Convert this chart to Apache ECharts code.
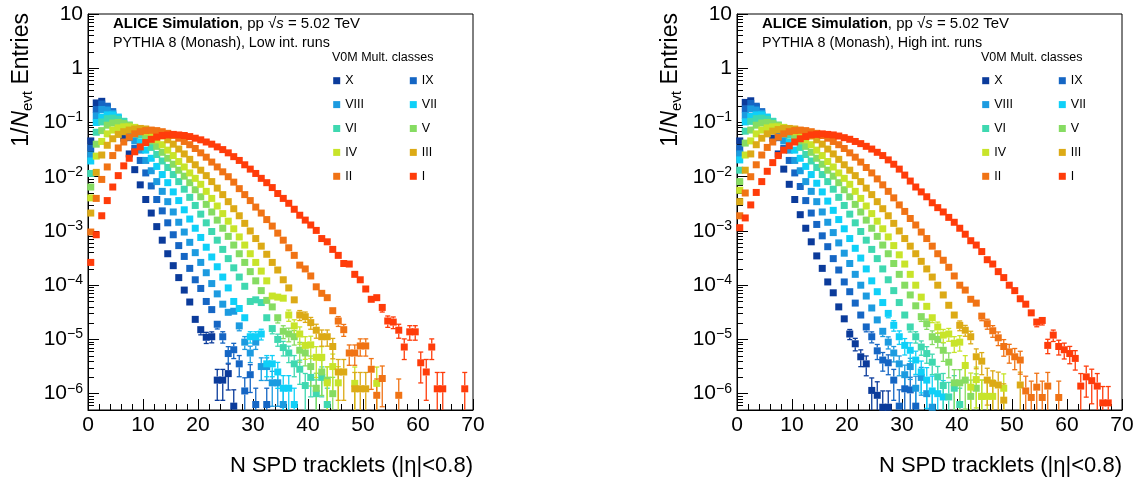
<!DOCTYPE html>
<html><head><meta charset="utf-8">
<script src="https://cdn.jsdelivr.net/npm/echarts@6/dist/echarts.min.js"></script>
<style>html,body{margin:0;padding:0;background:#fff}#c{width:1134px;height:479px}</style>
</head><body><div id="c"></div>
<script>
// ---- DATA (values given as log10 of 1/N_evt Entries, one per tracklet bin starting at bin 0) ----
const classNames = ['X','IX','VIII','VII','VI','V','IV','III','II','I'];
const classColors = ['#0b3b9b','#1566c4','#1c9be0','#0fd0f8','#3fd8b0','#86dc62','#c8e42a','#dcaa16','#f07315','#ff3c0a'];
const xTickValues = [0,10,20,30,40,50,60,70];
const yTickExponents = [1,0,-1,-2,-3,-4,-5,-6];

// Low int. runs (left panel)
const lowX    = [-1.34,-0.64,-0.61,-0.72,-0.87,-1.06,-1.29,-1.58,-1.87,-2.15,-2.42,-2.67,-2.92,-3.17,-3.42,-3.64,-3.86,-4.09,-4.31,-4.63,-4.82,-4.96,-4.95,-5.75,-5.75,-5.63,-6.23];
const lowIX   = [-1.47,-0.76,-0.66,-0.70,-0.80,-0.93,-1.09,-1.28,-1.48,-1.70,-1.93,-2.17,-2.42,-2.63,-2.85,-3.07,-3.27,-3.47,-3.69,-3.90,-4.06,-4.30,-4.45,-4.72,-4.95,-5.26,-5.19,-5.45,-5.95,-5.65,-6.2,null,-6.2];
const lowVIII = [-1.60,-0.88,-0.76,-0.77,-0.83,-0.92,-1.04,-1.18,-1.34,-1.51,-1.70,-1.89,-2.09,-2.27,-2.46,-2.65,-2.84,-3.02,-3.21,-3.40,-3.58,-3.77,-3.97,-4.16,-4.35,-4.50,-4.48,-4.75,-5.05,-5.25,-5.05,-5.5,-5.5,-5.8,-5.8,-6.2];
const lowVII  = [-1.71,-1.00,-0.90,-0.86,-0.86,-0.90,-0.98,-1.09,-1.22,-1.36,-1.51,-1.66,-1.81,-1.96,-2.11,-2.28,-2.44,-2.61,-2.78,-2.95,-3.12,-3.30,-3.48,-3.66,-3.85,-4.05,-4.30,-4.43,-4.60,-4.95,-4.95,-4.90,-5.45,-5.45,-5.6,-5.9,-5.9,-6.2];
const lowVI   = [-1.94,-1.18,-0.99,-0.93,-0.92,-0.94,-0.98,-1.05,-1.13,-1.23,-1.34,-1.46,-1.59,-1.71,-1.83,-1.96,-2.09,-2.23,-2.38,-2.53,-2.69,-2.85,-3.01,-3.17,-3.34,-3.51,-3.68,-3.85,-4.02,-4.30,-4.27,-4.32,-4.60,-4.80,-5.00,-5.15,-5.25,-5.45,-5.55,-5.85,-5.70,-6.0,-5.7,-6.2];
const lowV    = [-2.19,-1.40,-1.15,-1.05,-1.01,-1.00,-1.02,-1.05,-1.10,-1.17,-1.25,-1.34,-1.44,-1.55,-1.66,-1.77,-1.88,-1.99,-2.11,-2.24,-2.37,-2.51,-2.65,-2.80,-2.95,-3.10,-3.26,-3.42,-3.58,-3.75,-3.92,-4.10,-4.28,-4.40,-4.60,-4.85,-4.90,-4.95,-5.20,-5.25,-5.50,-5.90,-5.60,-5.75,-6.0];
const lowIV   = [-2.39,-1.62,-1.35,-1.21,-1.14,-1.10,-1.08,-1.08,-1.09,-1.12,-1.17,-1.24,-1.32,-1.41,-1.51,-1.61,-1.72,-1.82,-1.93,-2.03,-2.14,-2.27,-2.40,-2.54,-2.68,-2.82,-2.96,-3.11,-3.26,-3.42,-3.58,-3.74,-3.92,-4.20,-4.22,-4.24,-4.55,-4.75,-4.90,-5.11,-5.10,-5.33,-5.33,-5.80,-5.50,-5.80,null,null,-5.81,null,null,null,-5.81];
const lowIII  = [-2.67,-1.92,-1.60,-1.42,-1.30,-1.22,-1.17,-1.14,-1.12,-1.11,-1.12,-1.15,-1.19,-1.25,-1.32,-1.40,-1.49,-1.58,-1.68,-1.78,-1.88,-1.98,-2.09,-2.21,-2.33,-2.46,-2.59,-2.72,-2.86,-3.00,-3.14,-3.28,-3.43,-3.58,-3.72,-3.90,-4.05,-4.27,-4.55,-4.58,-4.69,-4.83,-4.95,-4.95,-5.13,-5.60,-5.60,null,-5.91,-5.91,-5.91];
const lowII   = [-3.02,-2.40,-2.05,-1.82,-1.61,-1.47,-1.36,-1.27,-1.21,-1.17,-1.15,-1.14,-1.15,-1.17,-1.20,-1.24,-1.29,-1.35,-1.41,-1.48,-1.56,-1.64,-1.73,-1.82,-1.91,-2.00,-2.10,-2.22,-2.33,-2.44,-2.56,-2.67,-2.79,-2.91,-3.04,-3.17,-3.31,-3.45,-3.63,-3.70,-3.83,-4.03,-4.15,-4.23,-4.47,-4.66,-4.82,-5.25,-5.25,-5.12,-5.12,-5.55,-6.03,-5.72,null,null,-6.03];
const lowI    = [-3.58,-3.07,-2.72,-2.44,-2.19,-1.98,-1.80,-1.66,-1.54,-1.45,-1.37,-1.31,-1.27,-1.24,-1.23,-1.22,-1.23,-1.24,-1.26,-1.29,-1.32,-1.36,-1.40,-1.45,-1.50,-1.56,-1.63,-1.70,-1.78,-1.86,-1.94,-2.03,-2.11,-2.20,-2.31,-2.40,-2.49,-2.60,-2.71,-2.80,-2.89,-2.99,-3.14,-3.20,-3.34,-3.45,-3.60,-3.61,-3.80,-3.90,-4.07,-4.26,-4.23,-4.41,-4.66,-4.68,-4.83,-5.14,-4.86,-4.86,-5.43,-5.60,-5.14,-5.91,-5.91,null,null,null,-5.91];

// High int. runs (right panel)
const highX    = [-1.34,-0.63,-0.60,-0.72,-0.87,-1.06,-1.29,-1.58,-1.86,-2.14,-2.42,-2.70,-2.95,-3.20,-3.46,-3.69,-3.94,-4.14,-4.40,-4.62,-4.90,-5.08,-5.32,-5.45,-5.94,-6.03,-6.25,-6.25];
const highIX   = [-1.48,-0.75,-0.65,-0.70,-0.80,-0.93,-1.09,-1.28,-1.48,-1.70,-1.93,-2.18,-2.44,-2.67,-2.88,-3.09,-3.29,-3.51,-3.72,-3.94,-4.12,-4.33,-4.55,-4.77,-4.95,-5.21,-5.38,-5.43,-5.75,-6.23,-5.91,-5.93,-6.23];
const highVIII = [-1.58,-0.87,-0.75,-0.77,-0.83,-0.92,-1.04,-1.18,-1.34,-1.51,-1.70,-1.89,-2.09,-2.27,-2.46,-2.65,-2.84,-3.03,-3.22,-3.41,-3.60,-3.80,-4.00,-4.20,-4.42,-4.64,-4.85,-5.05,-5.25,-5.45,-5.65,-5.50,-5.90,-5.70,-6.00,-6.25];
const highVII  = [-1.69,-0.99,-0.89,-0.86,-0.86,-0.90,-0.98,-1.09,-1.22,-1.36,-1.51,-1.66,-1.81,-1.96,-2.12,-2.28,-2.45,-2.62,-2.79,-2.96,-3.14,-3.32,-3.50,-3.70,-3.92,-4.12,-4.32,-4.52,-4.74,-4.95,-5.11,-5.20,-5.38,-5.60,-5.75,-5.95,-6.00,-6.06];
const highVI   = [-1.88,-1.16,-0.98,-0.93,-0.92,-0.94,-0.98,-1.05,-1.13,-1.23,-1.34,-1.46,-1.59,-1.71,-1.83,-1.96,-2.09,-2.23,-2.38,-2.53,-2.69,-2.85,-3.01,-3.17,-3.34,-3.51,-3.70,-3.90,-4.10,-4.32,-4.55,-4.77,-4.95,-5.14,-5.26,-5.42,-5.69,-5.85,-6.06,-5.9,-6.2];
const highV    = [-2.09,-1.38,-1.14,-1.05,-1.01,-1.00,-1.02,-1.05,-1.10,-1.17,-1.25,-1.34,-1.44,-1.55,-1.66,-1.77,-1.88,-1.99,-2.11,-2.24,-2.37,-2.51,-2.65,-2.80,-2.95,-3.10,-3.26,-3.42,-3.60,-3.80,-4.00,-4.18,-4.38,-4.58,-4.71,-4.95,-5.00,-5.20,-5.42,-5.80,-5.80,-5.75,-6.05,-5.9,-6.05];
const highIV   = [-2.25,-1.60,-1.34,-1.21,-1.14,-1.10,-1.08,-1.08,-1.09,-1.12,-1.17,-1.24,-1.32,-1.41,-1.51,-1.61,-1.72,-1.82,-1.93,-2.03,-2.14,-2.27,-2.40,-2.54,-2.68,-2.82,-2.96,-3.11,-3.27,-3.44,-3.61,-3.80,-4.00,-4.22,-4.39,-4.60,-4.77,-4.92,-4.90,-5.07,-5.05,-5.48,-5.88,-5.74,-6.05,-6.05,-6.05,null,-5.9];
const highIII  = [-2.46,-1.88,-1.58,-1.41,-1.29,-1.21,-1.16,-1.13,-1.11,-1.11,-1.12,-1.15,-1.19,-1.25,-1.32,-1.40,-1.49,-1.58,-1.68,-1.78,-1.88,-1.98,-2.09,-2.21,-2.33,-2.46,-2.59,-2.72,-2.86,-3.00,-3.14,-3.28,-3.42,-3.56,-3.70,-3.85,-4.00,-4.18,-4.37,-4.55,-4.74,-4.83,-4.95,-5.32,-5.40,-5.75,-5.81,-5.84,-6.12,null,null,-5.84];
const highII   = [-2.72,-2.30,-2.00,-1.78,-1.60,-1.46,-1.36,-1.27,-1.21,-1.17,-1.15,-1.14,-1.15,-1.17,-1.20,-1.24,-1.29,-1.35,-1.41,-1.48,-1.56,-1.64,-1.73,-1.83,-1.93,-2.04,-2.15,-2.27,-2.39,-2.52,-2.64,-2.77,-2.89,-3.02,-3.14,-3.28,-3.42,-3.54,-3.67,-3.83,-4.00,-4.09,-4.26,-4.33,-4.57,-4.71,-4.84,-4.97,-5.13,-5.23,-5.32,-5.38,-5.95,-6.07,-5.88,-6.07,-5.86,null,-6.07];
const highI    = [-2.94,-2.76,-2.52,-2.29,-2.09,-1.90,-1.74,-1.61,-1.51,-1.43,-1.36,-1.30,-1.26,-1.23,-1.22,-1.21,-1.22,-1.23,-1.25,-1.28,-1.31,-1.35,-1.39,-1.44,-1.49,-1.55,-1.61,-1.69,-1.77,-1.86,-1.97,-2.08,-2.19,-2.28,-2.37,-2.48,-2.57,-2.65,-2.75,-2.84,-2.95,-3.06,-3.18,-3.26,-3.38,-3.53,-3.61,-3.75,-3.86,-4.00,-4.10,-4.25,-4.35,-4.51,-4.68,-4.65,-5.11,-4.92,-5.13,-5.19,-5.26,-5.35,-5.86,-5.69,-5.76,-5.86,-6.17,-6.17];

// value of one entry per class (sets the statistical error bar size)
const lowSingleEntry  = [5.9e-7,6.3e-7,6.3e-7,6.3e-7,6.3e-7,1.0e-6,1.55e-6,1.23e-6,9.3e-7,1.23e-6];
const highSingleEntry = [5.6e-7,5.9e-7,5.6e-7,8.7e-7,6.3e-7,8.9e-7,8.9e-7,7.6e-7,8.5e-7,6.8e-7];

const lowSets  = [lowX,lowIX,lowVIII,lowVII,lowVI,lowV,lowIV,lowIII,lowII,lowI];
const highSets = [highX,highIX,highVIII,highVII,highVI,highV,highIV,highIII,highII,highI];

// ---- CHART ----
const FONT = 'Liberation Sans, Arial, Helvetica, sans-serif';
const Y_MIN = 5e-7, Y_MAX = 10;
const MS = 7;
const panels = [
  {left: 88, sets: lowSets, unit: lowSingleEntry, run: 'Low int. runs'},
  {left: 737, sets: highSets, unit: highSingleEntry, run: 'High int. runs'}
];
const W = 385, TOP = 14, H = 396;

const minorVals = [];
for (let e = -7; e <= 0; e++) for (let m = 2; m <= 9; m++) { const v = m * Math.pow(10, e); if (v > Y_MIN && v < Y_MAX) minorVals.push(v); }
const majorVals = yTickExponents.map(e => Math.pow(10, e));

function yFmt(val) {
  const e = Math.round(Math.log10(val));
  if (Math.abs(val / Math.pow(10, e) - 1) > 1e-3) return '';
  if (e === 1) return '10';
  if (e === 0) return '1';
  return '{b|10}{s|\u2212' + (-e) + '}';
}

const grids = [], xAxes = [], yAxes = [], series = [], legends = [], graphics = [];
panels.forEach((p, pi) => {
  grids.push({left: p.left, top: TOP, width: W, height: H, show: true, borderColor: '#000', borderWidth: 1, backgroundColor: 'transparent', outerBoundsMode: 'none', containLabel: false});
  xAxes.push({gridIndex: pi, type: 'value', min: 0, max: 70, interval: 10,
    axisLine: {show: true, onZero: false, lineStyle: {color: '#000', width: 1}},
    axisTick: {show: true, inside: true, length: 11, lineStyle: {color: '#000', width: 1}},
    minorTick: {show: true, splitNumber: 5, length: 6, lineStyle: {color: '#000', width: 1}},
    splitLine: {show: false}, minorSplitLine: {show: false},
    axisLabel: {color: '#000', fontSize: 21, fontFamily: FONT, margin: 5, showMinLabel: true, showMaxLabel: true, hideOverlap: false}
  });
  yAxes.push({gridIndex: pi, type: 'log', logBase: 10, min: Y_MIN, max: Y_MAX, position: 'left',
    axisLine: {show: true, lineStyle: {color: '#000', width: 1}},
    axisTick: {show: true, inside: true, length: 11, lineStyle: {color: '#000', width: 1}, customValues: majorVals},
    splitLine: {show: false},
    axisLabel: {color: '#000', fontSize: 21, fontFamily: FONT, margin: 5, formatter: yFmt, customValues: majorVals, hideOverlap: false,
      rich: {b: {fontSize: 21, fontFamily: FONT, color: '#000', lineHeight: 24}, s: {fontSize: 14, fontFamily: FONT, color: '#000', verticalAlign: 'top', lineHeight: 12}}}
  });
  yAxes.push({gridIndex: pi, type: 'log', logBase: 10, min: Y_MIN, max: Y_MAX, position: 'left', offset: 0,
    axisLine: {show: false}, splitLine: {show: false}, axisLabel: {show: false},
    axisTick: {show: true, inside: true, length: 6, lineStyle: {color: '#000', width: 1}, customValues: minorVals}
  });
  const yIdx = pi * 2;
  p.sets.forEach((arr, ci) => {
    const pts = [], errs = [];
    arr.forEach((L, k) => {
      if (L === null) return;
      const x = k + 0.5, v = Math.pow(10, L);
      pts.push([x, v]);
      errs.push([x, v, Math.sqrt(v * p.unit[ci])]);
    });
    series.push({type: 'custom', name: classNames[ci] + ' err', xAxisIndex: pi, yAxisIndex: yIdx, silent: true, clip: true,
      itemStyle: {color: classColors[ci]}, encode: {x: 0, y: 1}, data: errs,
      renderItem: function (params, api) {
        const x = api.value(0), v = api.value(1), e = api.value(2);
        const cs = params.coordSys;
        const c = api.coord([x, v]);
        const yb = cs.y + cs.height;
        const hi = api.coord([x, v + e])[1];
        const lo = (v - e) > Y_MIN * 1.0001 ? api.coord([x, v - e])[1] : yb;
        const half = MS / 2, cap = 2.5;
        const st = {stroke: classColors[ci], lineWidth: 1.3};
        const ch = [];
        if (c[1] - half - hi > 0.8) {
          const yt = Math.max(hi, cs.y);
          ch.push({type: 'line', shape: {x1: c[0], y1: c[1] - half, x2: c[0], y2: yt}, style: st});
          ch.push({type: 'line', shape: {x1: c[0] - cap, y1: yt, x2: c[0] + cap, y2: yt}, style: st});
        }
        if (lo - c[1] - half > 0.8) {
          const yl = Math.min(lo, yb);
          ch.push({type: 'line', shape: {x1: c[0], y1: c[1] + half, x2: c[0], y2: yl}, style: st});
          if (lo < yb - 0.5) ch.push({type: 'line', shape: {x1: c[0] - cap, y1: yl, x2: c[0] + cap, y2: yl}, style: st});
        }
        return {type: 'group', children: ch};
      }
    });
    series.push({type: 'scatter', name: classNames[ci], xAxisIndex: pi, yAxisIndex: yIdx, symbol: 'rect', symbolSize: MS,
      itemStyle: {color: classColors[ci], opacity: 1}, data: pts, silent: true});
  });
  const off = p.left - 88;
  const legCommon = {orient: 'vertical', top: 73.7, padding: 0, itemWidth: 7, itemHeight: 7, itemGap: 9.9, icon: 'rect', selectedMode: false,
    textStyle: {fontSize: 12.5, fontFamily: FONT, color: '#000', lineHeight: 14}};
  legends.push(Object.assign({}, legCommon, {left: 333.2 + off, data: ['X','VIII','VI','IV','II']}));
  legends.push(Object.assign({}, legCommon, {left: 409.8 + off, data: ['IX','VII','V','III','I']}));
  graphics.push({type: 'text', x: 22 + off, y: 13, rotation: Math.PI / 2,
    style: {text: '1/{n|N}{sub|evt} Entries', fontSize: 23, fontFamily: FONT, fill: '#000', align: 'right', verticalAlign: 'middle', lineHeight: 26,
      rich: {n: {fontStyle: 'italic', fontSize: 23, fontFamily: FONT, lineHeight: 26}, sub: {fontSize: 15, fontFamily: FONT, verticalAlign: 'bottom', lineHeight: 14}}}});
  graphics.push({type: 'text', x: 473 + off, y: 466, style: {text: 'N SPD tracklets (|\u03b7|<0.8)', fontSize: 22, fontFamily: FONT, fill: '#000', align: 'right', verticalAlign: 'middle'}});
  graphics.push({type: 'text', x: 113 + off, y: 24, style: {text: '{b|ALICE Simulation}, pp \u221a{i|s} = 5.02 TeV', fontSize: 15, fontFamily: FONT, fill: '#000', verticalAlign: 'middle',
    rich: {b: {fontWeight: 'bold', fontSize: 15, fontFamily: FONT}, i: {fontStyle: 'italic', fontSize: 15, fontFamily: FONT}}}});
  graphics.push({type: 'text', x: 113 + off, y: 43, style: {text: 'PYTHIA 8 (Monash), ' + p.run, fontSize: 14.3, fontFamily: FONT, fill: '#000', verticalAlign: 'middle'}});
  graphics.push({type: 'text', x: 332 + off, y: 58, style: {text: 'V0M Mult. classes', fontSize: 12.5, fontFamily: FONT, fill: '#000', verticalAlign: 'middle'}});
});

const chart = echarts.init(document.getElementById('c'), null, {renderer: 'canvas'});
chart.setOption({
  animation: false,
  backgroundColor: '#fff',
  grid: grids, xAxis: xAxes, yAxis: yAxes, series: series, legend: legends, graphic: graphics
});
</script></body></html>
